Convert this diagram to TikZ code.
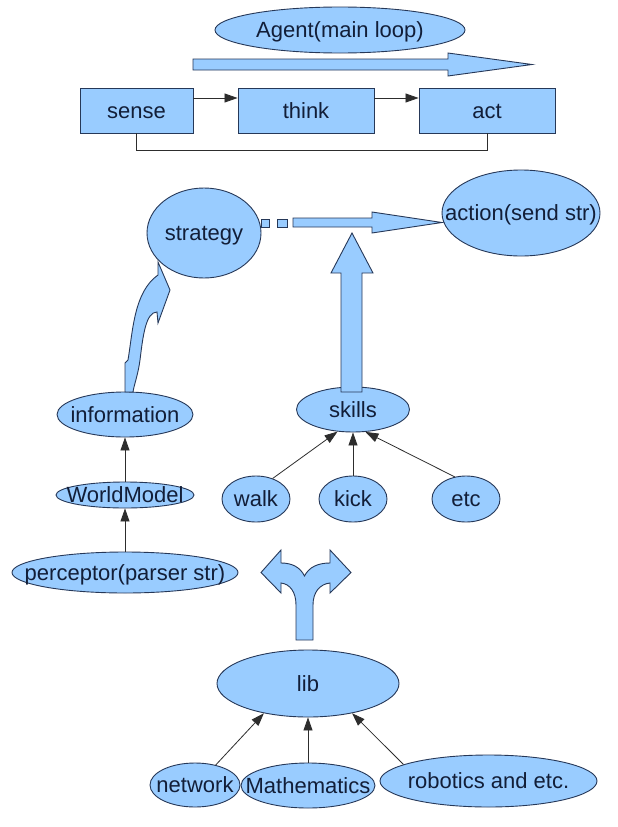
\documentclass[tikz,border=0pt]{standalone}
\usepackage{fontspec}
\setmainfont{Liberation Sans}
\usetikzlibrary{shapes.geometric,arrows.meta}
\definecolor{fillc}{RGB}{153,204,255}
\definecolor{edgec}{RGB}{38,56,88}
\definecolor{txtc}{RGB}{18,30,56}
\definecolor{linec}{RGB}{45,45,45}
\begin{document}
\begin{tikzpicture}[x=1pt,y=-1pt,
  lbl/.style={font=\fontsize{22}{26}\selectfont, text=txtc, inner sep=0pt, text height=20pt, text depth=4.7pt},
  ell/.style={ellipse, draw=edgec, fill=fillc, inner sep=0pt, line width=0.9pt},
  box/.style={rectangle, draw=edgec, fill=fillc, inner sep=0pt, line width=0.9pt, lbl},
  blk/.style={draw=edgec, fill=fillc, line width=0.9pt, line join=miter},
  conn/.style={draw=linec, line width=0.8pt},
  arr/.style={conn, -{Triangle[length=13pt,width=9pt]}}]
\useasboundingbox (0,0) rectangle (618,827);
\fill[white] (0,0) rectangle (618,827);

% top part
\node[ell, minimum width=250pt, minimum height=46pt, label={[lbl]center:Agent(main loop)}] (agent) at (340,30) {};
\draw[blk] (193,59) -- (448,59) -- (448,53) -- (532,64.5) -- (448,76) -- (448,70) -- (193,70) -- cycle;
\node[box, minimum width=113pt, minimum height=45pt] (sense) at (136.5,110.5) {sense};
\node[box, minimum width=136pt, minimum height=45pt] (think) at (306,110.5) {think};
\node[box, minimum width=136pt, minimum height=45pt] (act) at (487,110.5) {act};
\draw[arr] ([yshift=12.5pt]sense.east) -- ([yshift=12.5pt]think.west);
\draw[arr] ([yshift=12.5pt]think.east) -- ([yshift=12.5pt]act.west);
\draw[conn] (sense.south) -- ++(0,17) -| (act.south);

% strategy / action
\node[ell, minimum width=114pt, minimum height=90pt, label={[lbl]center:strategy}] (strategy) at (204,233) {};
\node[ell, minimum width=158pt, minimum height=86pt, label={[lbl]center:action(send str)}] (action) at (521,213) {};
\draw[blk] (261,219) rectangle (269,227);
\draw[blk] (277,219) rectangle (287,227);
\draw[blk] (293,218) -- (372,218) -- (372,212) -- (442,222.5) -- (372,233) -- (372,227) -- (293,227) -- cycle;

% left column
\node[ell, minimum width=136pt, minimum height=45pt, label={[lbl]center:information}] (info) at (125,414.5) {};
\node[ell, minimum width=138pt, minimum height=26pt, label={[lbl]center:WorldModel}] (wm) at (125,495) {};
\node[ell, minimum width=226pt, minimum height=41pt, label={[lbl]center:perceptor(parser str)}] (perc) at (125,572.5) {};
\draw[arr] (perc.north) -- (wm.south);
\draw[arr] (wm.north) -- (info.south);
% wavy arrow info -> strategy
\draw[blk] (125,392) -- (125,363) -- (128,360)
  .. controls (133,330) and (134,292) .. (158,275) -- (158,262) -- (170,290) -- (158,323) -- (157,312)
  .. controls (146,312) and (143,335) .. (140,360)
  .. controls (138,375) and (134,385) .. (133,392) -- cycle;

% skills
\node[ell, minimum width=113pt, minimum height=45pt, label={[lbl]center:skills}] (skills) at (353,409.5) {};
\draw[blk] (341,392) -- (341,273) -- (331,273) -- (352,233) -- (373,273) -- (362,273) -- (362,392) -- cycle;
\node[ell, minimum width=68pt, minimum height=46pt, label={[lbl]center:walk}] (walk) at (256,499) {};
\node[ell, minimum width=68pt, minimum height=46pt, label={[lbl]center:kick}] (kick) at (353,499) {};
\node[ell, minimum width=68pt, minimum height=46pt, label={[lbl]center:etc}] (etc) at (466,499) {};
\draw[arr] (walk.51) -- (skills.235);
\draw[arr] (kick.north) -- (skills.south);
\draw[arr] (etc.117) -- (skills.299);

% fork arrow
\draw[blk] (296,640) -- (296,605) .. controls (296,592) and (290,584) .. (281,583) -- (281,593) -- (261,572.5) -- (281,550) -- (281,563)
  .. controls (292,563) and (300,567) .. (304.5,576) .. controls (309,567) and (318,563) .. (330,563)
  -- (330,550) -- (351,572.5) -- (330,593) -- (330,583)
  .. controls (320,584) and (313,592) .. (313,605) -- (313,640) -- cycle;

% lib
\node[ell, minimum width=182pt, minimum height=67pt, label={[lbl]center:lib}] (lib) at (308,683.5) {};
\node[ell, minimum width=90pt, minimum height=44pt, label={[lbl]center:network}] (net) at (195,785) {};
\node[ell, minimum width=134pt, minimum height=45pt, label={[lbl]center:Mathematics}] (math) at (308,785.5) {};
\node[ell, minimum width=217pt, minimum height=52pt, label={[lbl]center:robotics and etc.}] (robo) at (488.5,781) {};
\draw[arr] (net.44) -- (lib.214);
\draw[arr] (math.north) -- (lib.south);
\draw[arr] (robo.169) -- (lib.326);
\end{tikzpicture}
\end{document}
